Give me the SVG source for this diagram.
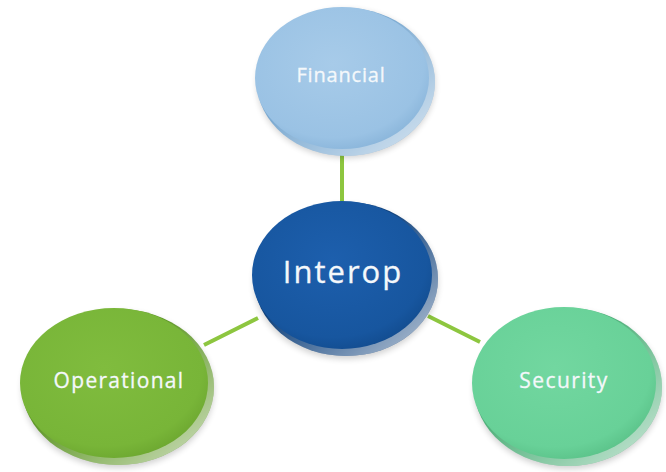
<svg xmlns="http://www.w3.org/2000/svg" width="666" height="472" viewBox="0 0 666 472">
<defs>
<radialGradient id="gF" cx="45%" cy="40%" r="65%"><stop offset="0" stop-color="#a7cbe9"/><stop offset="0.8" stop-color="#9ac2e4"/><stop offset="1" stop-color="#86b2d8"/></radialGradient>
<radialGradient id="gI" cx="45%" cy="40%" r="65%"><stop offset="0" stop-color="#1d5fad"/><stop offset="0.8" stop-color="#17569f"/><stop offset="1" stop-color="#114a8c"/></radialGradient>
<radialGradient id="gO" cx="45%" cy="40%" r="65%"><stop offset="0" stop-color="#80bc3e"/><stop offset="0.8" stop-color="#78b538"/><stop offset="1" stop-color="#6aa42e"/></radialGradient>
<radialGradient id="gS" cx="45%" cy="40%" r="65%"><stop offset="0" stop-color="#72d7a0"/><stop offset="0.8" stop-color="#68d198"/><stop offset="1" stop-color="#58bf86"/></radialGradient>
<linearGradient id="rim" x1="0" y1="0" x2="1" y2="1"><stop offset="0.4" stop-color="#fff" stop-opacity="0"/><stop offset="0.85" stop-color="#fff" stop-opacity="0.55"/><stop offset="1" stop-color="#fff" stop-opacity="0.2"/></linearGradient>
<filter id="sh" x="-20%" y="-20%" width="140%" height="150%"><feGaussianBlur stdDeviation="3"/></filter>
</defs>
<style>
.con line{stroke:#8dc63f;stroke-width:4}
.lbl{font-family:"Open Sans","Liberation Sans",sans-serif;fill:#f4f8fb;text-anchor:middle;stroke:#f4f8fb;stroke-width:0.3}
.shadow{fill:#000;opacity:0.18;filter:url(#sh)}
</style>
<rect width="666" height="472" fill="#fff"/>
<g class="con">
<line x1="342" y1="150" x2="342" y2="202"/>
<line x1="258" y1="318" x2="204" y2="345"/>
<line x1="428" y1="316" x2="480" y2="342"/>
</g>
<g id="financial">
<ellipse class="shadow" cx="346" cy="84" rx="89" ry="74"/>
<ellipse cx="346" cy="82" rx="89" ry="74" fill="#7aa9d1"/>
<ellipse cx="346" cy="82" rx="89" ry="74" fill="url(#rim)"/>
<ellipse cx="342" cy="78" rx="87" ry="71" fill="url(#gF)"/>
<text class="lbl" x="341" y="82" font-size="20" letter-spacing="0.8">Financial</text>
</g>
<g id="interop">
<ellipse class="shadow" cx="346" cy="282" rx="92" ry="77"/>
<ellipse cx="346" cy="279" rx="92" ry="77" fill="#0f417c"/>
<ellipse cx="346" cy="279" rx="92" ry="77" fill="url(#rim)"/>
<ellipse cx="342" cy="275" rx="90" ry="74" fill="url(#gI)"/>
<text class="lbl" x="343" y="283" font-size="31" letter-spacing="2">Interop</text>
</g>
<g id="operational">
<ellipse class="shadow" cx="118" cy="390" rx="96" ry="78"/>
<ellipse cx="118" cy="387" rx="96" ry="78" fill="#5f9727"/>
<ellipse cx="118" cy="387" rx="96" ry="78" fill="url(#rim)"/>
<ellipse cx="114" cy="383" rx="94" ry="75" fill="url(#gO)"/>
<text class="lbl" x="119" y="388" font-size="21" letter-spacing="1.3">Operational</text>
</g>
<g id="security">
<ellipse class="shadow" cx="568" cy="390" rx="94" ry="79"/>
<ellipse cx="568" cy="387" rx="94" ry="79" fill="#4fb07a"/>
<ellipse cx="568" cy="387" rx="94" ry="79" fill="url(#rim)"/>
<ellipse cx="564" cy="383" rx="92" ry="76" fill="url(#gS)"/>
<text class="lbl" x="564" y="388" font-size="21" letter-spacing="1.4">Security</text>
</g>
</svg>
